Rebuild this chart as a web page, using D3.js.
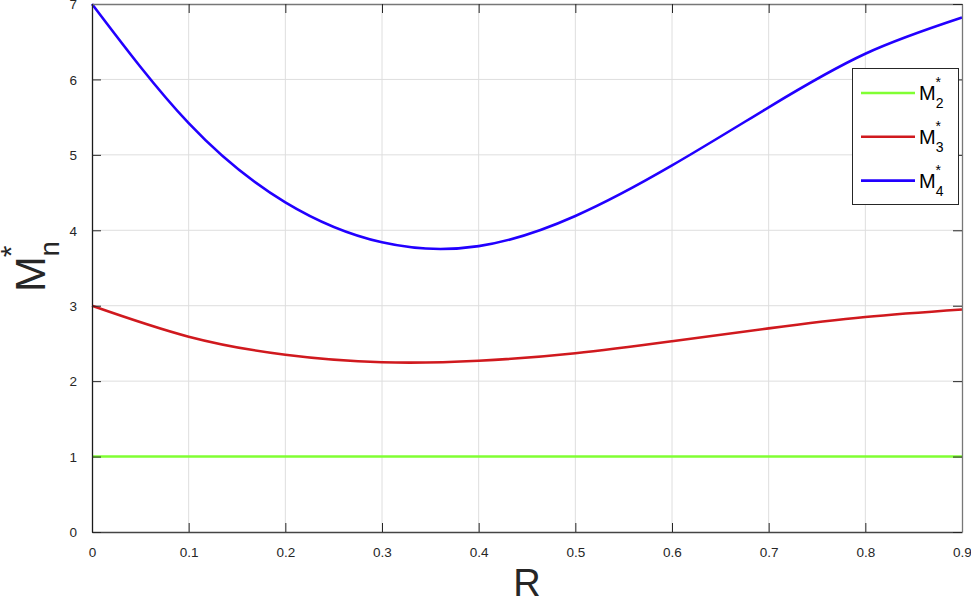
<!DOCTYPE html>
<html>
<head>
<meta charset="utf-8">
<script src="https://cdn.jsdelivr.net/npm/d3@7"></script>
<style>
  body { margin: 0; background: #fff; }
  svg { font-family: "Liberation Sans", Arial, Helvetica, sans-serif; }
</style>
</head>
<body>
<div id="chart"></div>
<script>
// R values
const rValues = [0, 0.1, 0.2, 0.3, 0.4, 0.5, 0.6, 0.7, 0.8, 0.9];
const m2 = [1, 1, 1, 1, 1, 1, 1, 1, 1, 1];
const m3 = [3.0, 2.59, 2.35, 2.25, 2.27, 2.37, 2.53, 2.70, 2.85, 2.95];
const m4 = [7.0, 5.42, 4.37, 3.84, 3.79, 4.19, 4.86, 5.63, 6.34, 6.82];
const xTicks = [0, 0.1, 0.2, 0.3, 0.4, 0.5, 0.6, 0.7, 0.8, 0.9];
const yTicks = [0, 1, 2, 3, 4, 5, 6, 7];

const series = [
  { sub: "2", values: m2, color: "#80ff33" },
  { sub: "3", values: m3, color: "#d0191e" },
  { sub: "4", values: m4, color: "#2200ff" }
];

const width = 971, height = 600;
const plotL = 92, plotR = 962, plotT = 4, plotB = 532;

const svg = d3.select("#chart").append("svg")
  .attr("width", width)
  .attr("height", height);

const x = d3.scaleLinear().domain([0, 0.9]).range([plotL, plotR]);
const y = d3.scaleLinear().domain([0, 7]).range([plotB, plotT]);

// grid
svg.append("g").selectAll("line")
  .data(xTicks.slice(1, -1))
  .enter().append("line")
  .attr("x1", d => x(d)).attr("x2", d => x(d))
  .attr("y1", plotT).attr("y2", plotB)
  .attr("stroke", "#dedede").attr("stroke-width", 1);
svg.append("g").selectAll("line")
  .data(yTicks.slice(1, -1))
  .enter().append("line")
  .attr("x1", plotL).attr("x2", plotR)
  .attr("y1", d => y(d)).attr("y2", d => y(d))
  .attr("stroke", "#dedede").attr("stroke-width", 1);

// curves
const line = d3.line()
  .x((d, i) => x(rValues[i]))
  .y(d => y(d))
  .curve(d3.curveNatural);

series.forEach(s => {
  svg.append("path")
    .attr("d", line(s.values))
    .attr("fill", "none")
    .attr("stroke", s.color)
    .attr("stroke-width", 2.6);
});

// axes, MATLAB style with inward ticks on all sides
const xAxis = svg.append("g")
  .attr("transform", `translate(0,${plotB})`)
  .call(d3.axisBottom(x).tickValues(xTicks).tickFormat(d => d === 0 ? "0" : d3.format(".1f")(d)).tickSizeInner(-9).tickSizeOuter(0).tickPadding(15));
const yAxis = svg.append("g")
  .attr("transform", `translate(${plotL},0)`)
  .call(d3.axisLeft(y).tickValues(yTicks).tickFormat(d3.format("d")).tickSizeInner(-9).tickSizeOuter(0).tickPadding(15));
const xTop = svg.append("g")
  .attr("transform", `translate(0,${plotT})`)
  .call(d3.axisTop(x).tickValues(xTicks).tickFormat("").tickSizeInner(-9).tickSizeOuter(0));
const yRight = svg.append("g")
  .attr("transform", `translate(${plotR},0)`)
  .call(d3.axisRight(y).tickValues(yTicks).tickFormat("").tickSizeInner(-9).tickSizeOuter(0));

[xAxis, yAxis].forEach(g => {
  g.selectAll("text").attr("font-size", 13.5).attr("fill", "#262626")
    .style("font-family", "'Liberation Sans', Arial, sans-serif");
  g.selectAll("line").attr("stroke", "#262626");
});
[xTop, yRight].forEach(g => {
  g.selectAll("line").attr("stroke", "#262626");
});
xAxis.select(".domain").attr("stroke", "#444").attr("stroke-width", 1.3);
yAxis.select(".domain").attr("stroke", "#1a1a1a").attr("stroke-width", 1.3);
xTop.select(".domain").attr("stroke", "#777").attr("stroke-width", 1.3);
yRight.select(".domain").attr("stroke", "#777").attr("stroke-width", 1.3);
yAxis.selectAll(".tick text").attr("dy", "0.35em");

// axis labels
svg.append("text")
  .attr("x", (plotL + plotR) / 2)
  .attr("y", 596)
  .attr("text-anchor", "middle")
  .attr("font-size", 38)
  .attr("fill", "#262626")
  .text("R");

const yLab = svg.append("text")
  .attr("transform", "translate(45,292) rotate(-90)")
  .attr("font-size", 43)
  .attr("fill", "#262626");
yLab.append("tspan").text("M");
yLab.append("tspan").attr("font-size", 27).attr("dy", 14).text("n");
yLab.append("tspan").attr("font-size", 30).attr("dx", -16).attr("dy", -38).text("*");

// legend
const legend = svg.append("g");
legend.append("rect")
  .attr("x", 852.5).attr("y", 68.5)
  .attr("width", 106).attr("height", 136)
  .attr("fill", "#fff").attr("stroke", "#262626").attr("stroke-width", 1);

series.forEach((s, i) => {
  const ly = 93 + i * 43.8;
  legend.append("line")
    .attr("x1", 861).attr("x2", 915)
    .attr("y1", ly).attr("y2", ly)
    .attr("stroke", s.color).attr("stroke-width", 2.6);
  const t = legend.append("text")
    .attr("x", 919).attr("y", ly + 7)
    .attr("font-size", 20)
    .attr("fill", "#000");
  t.append("tspan").text("M");
  t.append("tspan").attr("font-size", 14).attr("dy", 8).text(s.sub);
  t.append("tspan").attr("font-size", 14).attr("dx", -8).attr("dy", -21).text("*");
});
</script>
</body>
</html>
